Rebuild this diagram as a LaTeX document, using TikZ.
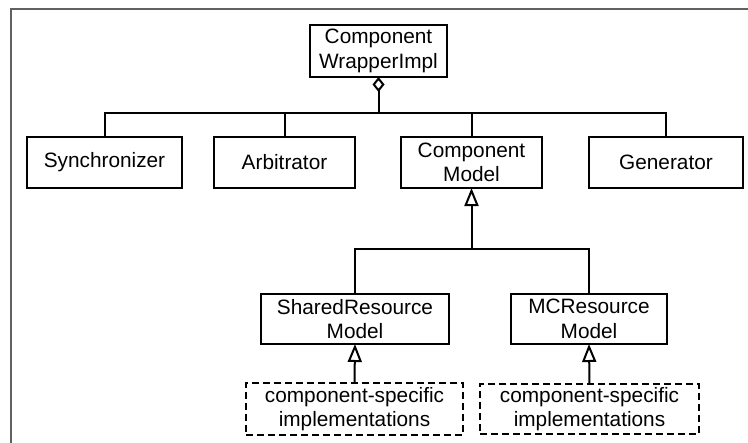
\documentclass[tikz,border=0pt]{standalone}
\usepackage{fontspec}
\setmainfont{Liberation Sans}
\usetikzlibrary{arrows.meta}
\begin{document}
\begin{tikzpicture}[x=0.5pt, y=-0.5pt,
  every node/.style={font=\fontsize{10.4}{12.2}\selectfont, align=center, inner sep=0pt, outer sep=0pt},
  cls/.style={draw, line width=0.9pt, rectangle},
  impl/.style={draw, line width=0.8pt, rectangle, dash pattern=on 3.5pt off 2pt},
  link/.style={line width=1pt},
  agg/.style={link, {Diamond[open, length=7.5pt, width=6pt]}-},
  gen/.style={link, -{Triangle[open, length=9pt, width=7pt]}}
]
\useasboundingbox (0,0) rectangle (748,443);
% outer frame
\draw[line width=1pt, color=black!62] (748,9) -- (11,9) -- (11,443);

% classes
\node[cls, minimum width=68.5pt, minimum height=26pt] (wrap) at (378.5,51) {Component\\WrapperImpl};
\node[cls, minimum width=77.5pt, minimum height=25.5pt] (sync) at (104.5,162.5) {Synchronizer};
\node[cls, minimum width=70.5pt, minimum height=25.5pt] (arb) at (284.5,162.5) {Arbitrator};
\node[cls, minimum width=70.5pt, minimum height=25.5pt] (cm) at (471.5,162.5) {Component\\Model};
\node[cls, minimum width=77pt, minimum height=25.5pt] (gnr) at (666,162.5) {Generator};
\node[cls, minimum width=94pt, minimum height=25pt] (srm) at (355,319) {SharedResource\\Model};
\node[cls, minimum width=78pt, minimum height=25pt] (mcr) at (589,319) {MCResource\\Model};
\node[impl, minimum width=108.5pt, minimum height=26pt] (imp1) at (354.5,409) {component-specific\\implementations};
\node[impl, minimum width=109.5pt, minimum height=25pt] (imp2) at (589.5,409) {component-specific\\implementations};

% aggregation bus
\coordinate (bus) at (378.5,113);
\draw[agg] (wrap.south) -- (bus);
\draw[link] (bus) -| (sync.north);
\draw[link] (bus) -| (arb.north);
\draw[link] (bus) -| (cm.north);
\draw[link] (bus) -| (gnr.north);

% generalisation tree
\coordinate (gj) at (cm.south |- 0,249);
\draw[gen] (gj) -- (cm.south);
\draw[link] (srm.north) |- (gj) -| (mcr.north);

% implementations
\draw[gen] (imp1.north) -- (srm.south);
\draw[gen] (imp2.north) -- (mcr.south);
\end{tikzpicture}
\end{document}
